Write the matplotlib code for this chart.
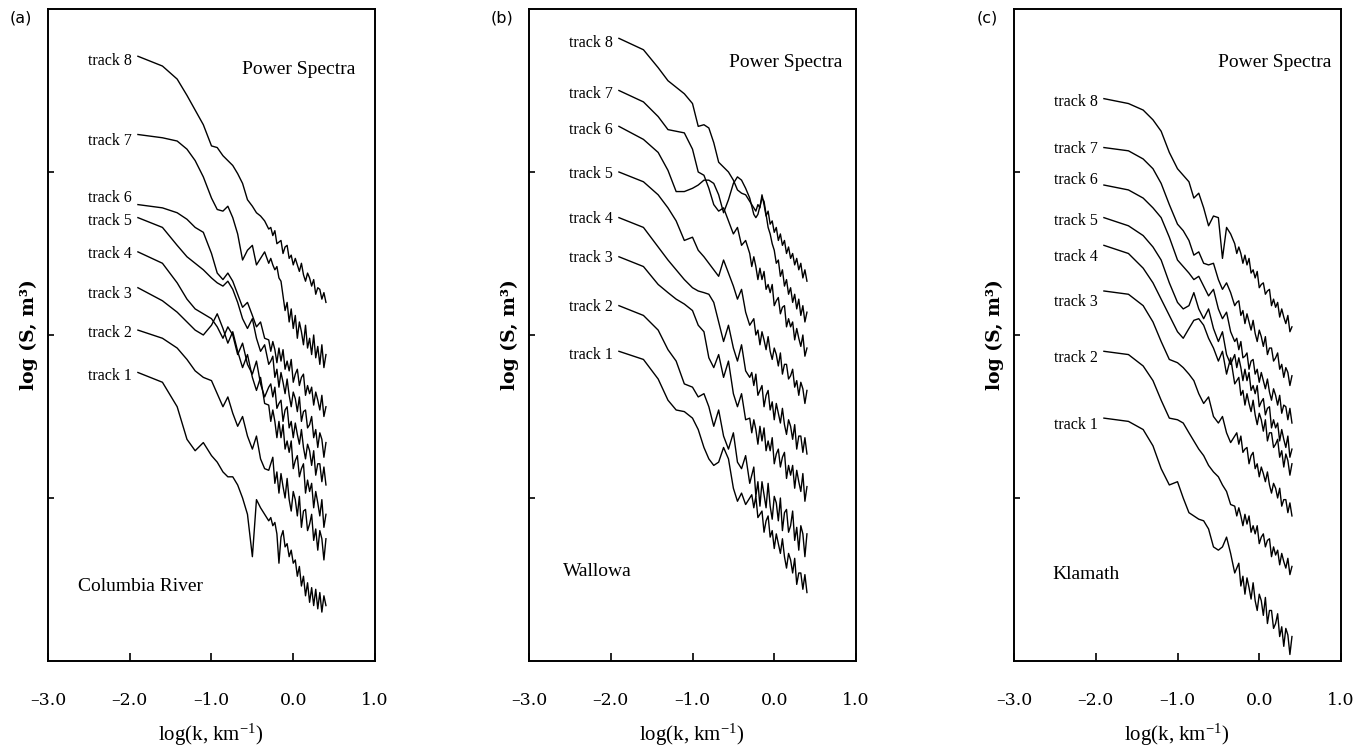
import matplotlib
matplotlib.use('Agg')
import matplotlib.pyplot as plt

plt.rcParams['mathtext.fontset'] = 'custom'
plt.rcParams['mathtext.rm'] = 'Liberation Serif'
plt.rcParams['mathtext.it'] = 'Liberation Serif:italic'
plt.rcParams['mathtext.bf'] = 'Liberation Serif:bold'

# log10 wavenumber grid, shared by every track
log_k = [-1.90, -1.60, -1.42, -1.30, -1.20, -1.10, -1.00, -0.93, -0.86, -0.80,
         -0.74, -0.68, -0.62, -0.56, -0.50, -0.45, -0.40, -0.35,
         -0.300, -0.275, -0.250, -0.225, -0.200, -0.175, -0.150, -0.125, -0.100, -0.075,
         -0.050, -0.025, 0.000, 0.025, 0.050, 0.075, 0.100, 0.125, 0.150, 0.175,
         0.200, 0.225, 0.250, 0.275, 0.300, 0.325, 0.350, 0.375, 0.400]

x_ticks = [-3, -2, -1, 0, 1]
x_tick_labels = ['\u20133.0', '\u20132.0', '\u20131.0', '0.0', '1.0']
y_ticks = [1, 2, 3]

# (a) Columbia River, log S (stacked, arbitrary offsets)
col_t1 = [1.77, 1.71, 1.56, 1.36, 1.29, 1.34, 1.26, 1.22, 1.16, 1.13, 1.13, 1.08, 1.00, 0.90, 0.64, 0.99, 0.94, 0.90,
          0.86, 0.88, 0.83, 0.85, 0.78, 0.60, 0.76, 0.80, 0.70, 0.72, 0.64, 0.68, 0.60, 0.62, 0.52, 0.58,
          0.46, 0.52, 0.40, 0.48, 0.36, 0.45, 0.34, 0.44, 0.32, 0.42, 0.30, 0.40, 0.34]
col_t2 = [2.03, 1.98, 1.92, 1.85, 1.78, 1.74, 1.72, 1.64, 1.56, 1.62, 1.52, 1.44, 1.50, 1.38, 1.30, 1.38, 1.24, 1.18,
          1.17, 1.21, 1.25, 1.09, 1.16, 1.03, 1.15, 1.07, 1.00, 1.12, 0.99, 0.92, 1.04, 0.99, 0.89, 1.01,
          0.82, 0.92, 0.93, 0.80, 0.84, 0.90, 0.74, 0.81, 0.68, 0.80, 0.75, 0.62, 0.75]
col_t3 = [2.29, 2.21, 2.14, 2.08, 2.03, 2.00, 2.06, 2.13, 2.04, 1.95, 2.02, 1.90, 1.80, 1.88, 1.74, 1.66, 1.74, 1.58,
          1.57, 1.47, 1.54, 1.47, 1.37, 1.47, 1.37, 1.45, 1.30, 1.35, 1.28, 1.35, 1.18, 1.23, 1.26, 1.13,
          1.18, 1.21, 1.03, 1.11, 1.04, 1.09, 0.94, 1.04, 0.97, 0.89, 0.99, 0.82, 0.90]
col_t4 = [2.51, 2.44, 2.32, 2.22, 2.16, 2.13, 2.10, 2.05, 1.98, 2.05, 2.00, 1.88, 1.95, 1.82, 1.76, 1.84, 1.70, 1.62,
          1.68, 1.70, 1.62, 1.68, 1.55, 1.58, 1.60, 1.47, 1.54, 1.56, 1.43, 1.47, 1.37, 1.46, 1.39, 1.33,
          1.42, 1.31, 1.24, 1.33, 1.29, 1.20, 1.29, 1.14, 1.21, 1.21, 1.10, 1.19, 1.08]
col_t5 = [2.72, 2.66, 2.55, 2.48, 2.44, 2.40, 2.35, 2.32, 2.30, 2.33, 2.28, 2.20, 2.10, 2.04, 2.10, 1.98, 1.90, 1.94,
          1.82, 1.84, 1.87, 1.74, 1.79, 1.68, 1.77, 1.71, 1.64, 1.73, 1.63, 1.56, 1.65, 1.61, 1.53, 1.62,
          1.47, 1.53, 1.54, 1.43, 1.45, 1.50, 1.37, 1.42, 1.31, 1.40, 1.36, 1.25, 1.34]
col_t6 = [2.80, 2.78, 2.75, 2.71, 2.66, 2.63, 2.50, 2.38, 2.34, 2.38, 2.33, 2.25, 2.17, 2.20, 2.12, 2.05, 2.08, 1.98,
          1.97, 1.90, 1.96, 1.91, 1.83, 1.92, 1.84, 1.91, 1.79, 1.84, 1.78, 1.85, 1.71, 1.76, 1.79, 1.69,
          1.74, 1.76, 1.63, 1.69, 1.64, 1.68, 1.57, 1.65, 1.60, 1.54, 1.63, 1.50, 1.56]
col_t7 = [3.23, 3.21, 3.19, 3.14, 3.07, 2.97, 2.84, 2.77, 2.76, 2.79, 2.72, 2.62, 2.46, 2.52, 2.55, 2.43, 2.47, 2.51,
          2.44, 2.47, 2.43, 2.40, 2.42, 2.35, 2.33, 2.24, 2.15, 2.20, 2.08, 2.16, 2.04, 2.12, 1.98, 2.08,
          2.02, 1.94, 2.06, 1.92, 1.98, 1.88, 2.00, 1.86, 1.93, 1.82, 1.94, 1.80, 1.88]
col_t8 = [3.71, 3.65, 3.57, 3.47, 3.38, 3.29, 3.16, 3.15, 3.10, 3.07, 3.04, 2.99, 2.93, 2.83, 2.79, 2.75, 2.73, 2.70,
          2.65, 2.66, 2.61, 2.64, 2.56, 2.57, 2.58, 2.50, 2.54, 2.55, 2.47, 2.49, 2.43, 2.47, 2.43, 2.39,
          2.44, 2.37, 2.33, 2.38, 2.35, 2.30, 2.34, 2.25, 2.29, 2.28, 2.22, 2.26, 2.20]

# (b) Wallowa
wal_t1 = [1.90, 1.85, 1.73, 1.60, 1.54, 1.53, 1.49, 1.42, 1.31, 1.24, 1.20, 1.22, 1.31, 1.24, 1.06, 0.98, 1.03, 0.96,
          1.00, 1.02, 0.94, 1.01, 0.88, 0.90, 0.92, 0.79, 0.86, 0.89, 0.76, 0.80, 0.69, 0.78, 0.72, 0.66,
          0.75, 0.64, 0.57, 0.66, 0.62, 0.54, 0.63, 0.47, 0.54, 0.54, 0.44, 0.53, 0.42]
wal_t2 = [2.18, 2.12, 2.03, 1.91, 1.84, 1.70, 1.68, 1.62, 1.64, 1.56, 1.44, 1.54, 1.38, 1.30, 1.40, 1.22, 1.18, 1.26,
          1.09, 1.14, 1.19, 1.01, 1.10, 0.95, 1.10, 1.02, 0.94, 1.09, 0.95, 0.87, 1.01, 0.97, 0.86, 1.00,
          0.80, 0.91, 0.93, 0.79, 0.83, 0.92, 0.74, 0.82, 0.68, 0.83, 0.78, 0.64, 0.78]
wal_t3 = [2.48, 2.42, 2.31, 2.26, 2.22, 2.19, 2.15, 2.06, 2.02, 1.86, 1.80, 1.88, 1.74, 1.84, 1.64, 1.56, 1.64, 1.48,
          1.49, 1.40, 1.48, 1.42, 1.33, 1.44, 1.35, 1.43, 1.29, 1.35, 1.29, 1.37, 1.21, 1.27, 1.30, 1.19,
          1.25, 1.28, 1.12, 1.20, 1.14, 1.20, 1.06, 1.17, 1.10, 1.04, 1.15, 0.98, 1.07]
wal_t4 = [2.72, 2.66, 2.54, 2.46, 2.40, 2.34, 2.29, 2.27, 2.26, 2.25, 2.20, 2.08, 1.96, 2.06, 1.92, 1.84, 1.94, 1.78,
          1.74, 1.77, 1.69, 1.76, 1.63, 1.66, 1.69, 1.56, 1.63, 1.66, 1.54, 1.59, 1.48, 1.58, 1.52, 1.46,
          1.55, 1.45, 1.39, 1.48, 1.44, 1.36, 1.45, 1.30, 1.38, 1.38, 1.28, 1.37, 1.27]
wal_t5 = [3.00, 2.94, 2.86, 2.78, 2.70, 2.58, 2.60, 2.52, 2.48, 2.44, 2.40, 2.36, 2.46, 2.38, 2.30, 2.22, 2.28, 2.14,
          2.06, 2.08, 2.10, 2.00, 2.03, 1.94, 2.02, 1.97, 1.91, 1.99, 1.90, 1.85, 1.92, 1.88, 1.81, 1.89,
          1.76, 1.82, 1.82, 1.73, 1.75, 1.79, 1.68, 1.72, 1.63, 1.71, 1.67, 1.58, 1.66]
wal_t6 = [3.28, 3.20, 3.12, 3.01, 2.88, 2.88, 2.90, 2.92, 2.95, 2.95, 2.93, 2.86, 2.75, 2.83, 2.93, 2.97, 2.95, 2.90,
          2.84, 2.79, 2.74, 2.72, 2.74, 2.79, 2.84, 2.82, 2.74, 2.66, 2.62, 2.56, 2.52, 2.44, 2.46, 2.36,
          2.40, 2.30, 2.34, 2.25, 2.29, 2.20, 2.25, 2.16, 2.22, 2.12, 2.18, 2.08, 2.14]
wal_t7 = [3.50, 3.43, 3.34, 3.26, 3.25, 3.24, 3.14, 3.00, 2.98, 2.90, 2.80, 2.76, 2.78, 2.70, 2.62, 2.66, 2.55, 2.58,
          2.50, 2.42, 2.48, 2.42, 2.34, 2.41, 2.34, 2.39, 2.28, 2.31, 2.26, 2.31, 2.18, 2.21, 2.23, 2.13,
          2.17, 2.18, 2.05, 2.10, 2.05, 2.08, 1.97, 2.04, 1.98, 1.93, 2.00, 1.87, 1.92]
wal_t8 = [3.82, 3.75, 3.64, 3.56, 3.52, 3.48, 3.42, 3.28, 3.29, 3.27, 3.18, 3.06, 3.03, 3.00, 2.95, 2.89, 2.87, 2.86,
          2.82, 2.80, 2.78, 2.76, 2.80, 2.78, 2.86, 2.80, 2.73, 2.76, 2.68, 2.70, 2.63, 2.66, 2.58, 2.62,
          2.55, 2.58, 2.50, 2.54, 2.47, 2.50, 2.43, 2.47, 2.40, 2.44, 2.35, 2.40, 2.33]

# (c) Klamath
kla_t1 = [1.49, 1.47, 1.42, 1.32, 1.18, 1.08, 1.10, 1.00, 0.91, 0.89, 0.87, 0.86, 0.81, 0.70, 0.68, 0.70, 0.76, 0.66,
          0.54, 0.57, 0.60, 0.46, 0.52, 0.41, 0.51, 0.45, 0.38, 0.48, 0.37, 0.31, 0.41, 0.37, 0.28, 0.39,
          0.23, 0.31, 0.31, 0.20, 0.23, 0.29, 0.15, 0.21, 0.09, 0.20, 0.16, 0.04, 0.15]
kla_t2 = [1.90, 1.88, 1.81, 1.72, 1.60, 1.49, 1.48, 1.46, 1.40, 1.35, 1.30, 1.26, 1.20, 1.16, 1.13, 1.08, 1.04, 0.96,
          0.95, 0.89, 0.94, 0.89, 0.83, 0.90, 0.84, 0.89, 0.79, 0.83, 0.78, 0.83, 0.72, 0.76, 0.78, 0.70,
          0.74, 0.75, 0.64, 0.70, 0.65, 0.68, 0.59, 0.66, 0.61, 0.57, 0.63, 0.53, 0.58]
kla_t3 = [2.27, 2.25, 2.18, 2.08, 1.96, 1.85, 1.83, 1.80, 1.76, 1.72, 1.64, 1.58, 1.62, 1.50, 1.46, 1.50, 1.40, 1.34,
          1.38, 1.40, 1.33, 1.38, 1.28, 1.30, 1.31, 1.21, 1.26, 1.28, 1.18, 1.21, 1.13, 1.19, 1.15, 1.10,
          1.16, 1.08, 1.03, 1.09, 1.06, 1.00, 1.06, 0.95, 0.99, 0.99, 0.91, 0.97, 0.89]
kla_t4 = [2.55, 2.50, 2.41, 2.32, 2.22, 2.12, 2.02, 1.98, 2.04, 2.09, 2.10, 2.06, 1.98, 1.92, 1.84, 1.90, 1.76, 1.86,
          1.70, 1.72, 1.74, 1.63, 1.66, 1.57, 1.64, 1.58, 1.53, 1.60, 1.51, 1.45, 1.52, 1.48, 1.41, 1.48,
          1.35, 1.40, 1.40, 1.31, 1.33, 1.36, 1.25, 1.29, 1.19, 1.27, 1.23, 1.14, 1.21]
kla_t5 = [2.72, 2.67, 2.61, 2.54, 2.46, 2.32, 2.20, 2.16, 2.18, 2.26, 2.16, 2.10, 2.16, 2.04, 1.96, 2.02, 1.88, 1.82,
          1.88, 1.80, 1.86, 1.80, 1.72, 1.79, 1.72, 1.77, 1.66, 1.69, 1.64, 1.69, 1.56, 1.59, 1.61, 1.51,
          1.55, 1.56, 1.43, 1.48, 1.43, 1.46, 1.35, 1.42, 1.36, 1.31, 1.38, 1.25, 1.30]
kla_t6 = [2.92, 2.89, 2.84, 2.78, 2.72, 2.60, 2.46, 2.42, 2.38, 2.34, 2.36, 2.30, 2.24, 2.28, 2.16, 2.10, 2.14, 2.02,
          1.96, 1.98, 1.91, 1.96, 1.86, 1.87, 1.89, 1.79, 1.84, 1.85, 1.76, 1.79, 1.71, 1.77, 1.72, 1.67,
          1.73, 1.65, 1.60, 1.67, 1.63, 1.57, 1.63, 1.52, 1.57, 1.56, 1.48, 1.55, 1.46]
kla_t7 = [3.15, 3.13, 3.08, 3.02, 2.93, 2.80, 2.68, 2.64, 2.58, 2.49, 2.51, 2.44, 2.43, 2.44, 2.34, 2.28, 2.32, 2.26,
          2.18, 2.20, 2.21, 2.12, 2.15, 2.07, 2.13, 2.08, 2.03, 2.09, 2.01, 1.96, 2.03, 1.99, 1.93, 1.99,
          1.88, 1.92, 1.92, 1.84, 1.86, 1.89, 1.79, 1.82, 1.74, 1.80, 1.77, 1.69, 1.75]
kla_t8 = [3.45, 3.42, 3.38, 3.32, 3.25, 3.12, 3.02, 2.98, 2.94, 2.84, 2.87, 2.78, 2.67, 2.73, 2.72, 2.47, 2.66, 2.62,
          2.56, 2.50, 2.54, 2.50, 2.44, 2.49, 2.43, 2.47, 2.38, 2.40, 2.35, 2.39, 2.29, 2.31, 2.32, 2.25,
          2.27, 2.28, 2.18, 2.22, 2.17, 2.20, 2.11, 2.16, 2.11, 2.07, 2.12, 2.02, 2.05]

# where the "track n" labels sit (log S of the label centre, tracks 1..8)
col_label_y = [1.75, 2.01, 2.25, 2.50, 2.70, 2.84, 3.19, 3.68]
wal_label_y = [1.88, 2.17, 2.47, 2.71, 2.99, 3.26, 3.48, 3.79]
kla_label_y = [1.45, 1.86, 2.20, 2.48, 2.70, 2.95, 3.14, 3.43]

panel_tags = ['(a)', '(b)', '(c)']
region_names = ['Columbia River', 'Wallowa', 'Klamath']
track_sets = [
    [col_t1, col_t2, col_t3, col_t4, col_t5, col_t6, col_t7, col_t8],
    [wal_t1, wal_t2, wal_t3, wal_t4, wal_t5, wal_t6, wal_t7, wal_t8],
    [kla_t1, kla_t2, kla_t3, kla_t4, kla_t5, kla_t6, kla_t7, kla_t8],
]
label_sets = [col_label_y, wal_label_y, kla_label_y]

W, H = 1371, 749
fig = plt.figure(figsize=(W / 100, H / 100), dpi=100)

lefts = [48, 529, 1014]
title_pos = [(0.755, 3.63), (0.83, 3.67), (0.88, 3.67)]
name_pos = [(-2.63, 0.46), (-2.585, 0.55), (-2.535, 0.53)]

for i in range(3):
    ax = fig.add_axes([lefts[i] / W, 1 - 661 / H, 327 / W, 652 / H])
    for n, trk in enumerate(track_sets[i]):
        ax.plot(log_k, trk, color='black', lw=1.0)
        ax.text(-1.97, label_sets[i][n], 'track %d' % (n + 1), ha='right', va='center',
                fontsize=11.5, family='Liberation Serif')
    ax.set_xlim(-3, 1)
    ax.set_ylim(0, 4)
    ax.set_xticks(x_ticks)
    ax.set_xticklabels(x_tick_labels, family='DejaVu Serif', fontsize=12.5)
    ax.set_yticks(y_ticks)
    ax.set_yticklabels([])
    ax.tick_params(axis='x', direction='in', length=6, width=1.2, pad=22)
    ax.tick_params(axis='y', direction='in', length=4, width=1.2)
    for s in ax.spines.values():
        s.set_linewidth(1.4)

    ax.text(title_pos[i][0], title_pos[i][1], 'Power Spectra', ha='right', va='center',
            fontsize=14, family='Liberation Serif')
    ax.text(name_pos[i][0], name_pos[i][1], region_names[i], ha='left', va='center',
            fontsize=14, family='Liberation Serif')

    ax.text(-0.057, 0.5, 'log (S, m\u00b3)', transform=ax.transAxes, rotation=90,
            ha='center', va='center', fontsize=13.5, fontweight='bold', family='DejaVu Serif')
    ax.text(0.4985, -0.1135, 'log(k, km$^{-1}$)', transform=ax.transAxes,
            ha='center', va='center', fontsize=15, family='Liberation Serif')

    fig.text((lefts[i] - 27) / W, 1 - 18 / H, panel_tags[i], ha='center', va='center',
             fontsize=11.5, family='DejaVu Sans')

fig.savefig('out.png', dpi=100)
